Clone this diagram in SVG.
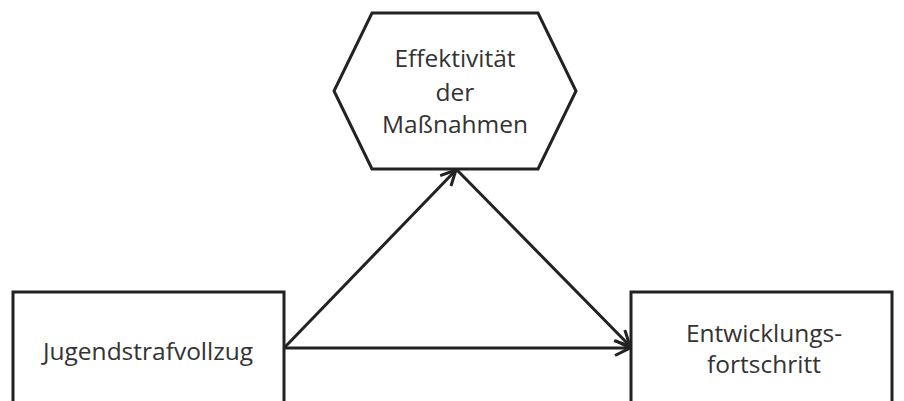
<svg xmlns="http://www.w3.org/2000/svg" width="904" height="401" viewBox="0 0 904 401">
<style>
.shape{fill:#fff;stroke:#222;stroke-width:3}
.lbl{font-family:"Open Sans","Liberation Sans",sans-serif;font-size:24.5px;fill:#333;text-anchor:middle}
.conn{stroke:#222;stroke-width:3;fill:none}
</style>
<defs>
<marker id="arr" viewBox="0 0 12 12" refX="11" refY="6" markerWidth="6" markerHeight="6" orient="auto" markerUnits="strokeWidth">
<path d="M1,1 L11,6 L1,11" fill="none" stroke="#222" stroke-width="2"/>
</marker>
</defs>
<rect width="904" height="401" fill="#fff"/>
<g id="node-effekt">
<polygon class="shape" points="372,13 538,13 576,91 538,169 372,169 334,91"/>
<text class="lbl" x="455" y="67">Effektivität</text>
<text class="lbl" x="455" y="101">der</text>
<text class="lbl" x="455" y="133">Maßnahmen</text>
</g>
<g id="node-jugend">
<rect class="shape" x="13" y="292" width="271" height="120"/>
<text class="lbl" x="148" y="360">Jugendstrafvollzug</text>
</g>
<g id="node-entw">
<rect class="shape" x="631" y="292" width="261" height="120"/>
<text class="lbl" x="764" y="342">Entwicklungs-</text>
<text class="lbl" x="764" y="373">fortschritt</text>
</g>
<g id="connectors">
<line class="conn" x1="284" y1="348" x2="456" y2="170" marker-end="url(#arr)"/>
<line class="conn" x1="457" y1="170" x2="630" y2="346" marker-end="url(#arr)"/>
<line class="conn" x1="284" y1="348" x2="630" y2="348" marker-end="url(#arr)"/>
</g>
</svg>
